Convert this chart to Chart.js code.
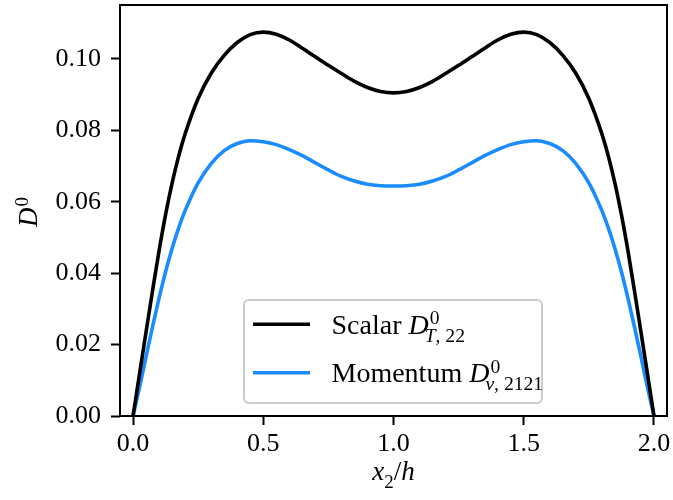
<!DOCTYPE html>
<html>
<head>
<meta charset="utf-8">
<script src="https://cdn.jsdelivr.net/npm/chart.js@4/dist/chart.umd.min.js"></script>
<style>
html,body{margin:0;padding:0;background:#fff;}
#wrap{width:673px;height:500px;}
</style>
</head>
<body>
<div id="wrap"><canvas id="c" width="673" height="500"></canvas></div>
<script>
// ---- data ----
const xValues = [0, 0.025, 0.05, 0.075, 0.1, 0.125, 0.15, 0.175, 0.2, 0.25, 0.3, 0.35, 0.4, 0.45, 0.5, 0.55, 0.6, 0.65, 0.7, 0.75, 0.8, 0.85, 0.9, 0.95, 1.0,
  1.05, 1.1, 1.15, 1.2, 1.25, 1.3, 1.35, 1.4, 1.45, 1.5, 1.55, 1.6, 1.65, 1.7, 1.75, 1.8, 1.825, 1.85, 1.875, 1.9, 1.925, 1.95, 1.975, 2.0];
const scalarValues = [0, 0.0118, 0.0235, 0.0351, 0.0463, 0.0564, 0.0652, 0.0727, 0.0790, 0.0889, 0.0960, 0.1010, 0.1046, 0.1068, 0.1075, 0.1069, 0.1053, 0.1030, 0.1006, 0.0982, 0.0959, 0.0937, 0.0920, 0.0909, 0.0905,
  0.0909, 0.0920, 0.0937, 0.0959, 0.0982, 0.1006, 0.1030, 0.1053, 0.1069, 0.1075, 0.1068, 0.1046, 0.1010, 0.0960, 0.0889, 0.0790, 0.0727, 0.0652, 0.0564, 0.0463, 0.0351, 0.0235, 0.0118, 0];
const momentumValues = [0, 0.0080, 0.0166, 0.0250, 0.0330, 0.0404, 0.0469, 0.0526, 0.0575, 0.0653, 0.0707, 0.0743, 0.0763, 0.0771, 0.0768, 0.0760, 0.0746, 0.0729, 0.0709, 0.0689, 0.0671, 0.0658, 0.0649, 0.0645, 0.0644,
  0.0645, 0.0649, 0.0658, 0.0671, 0.0689, 0.0709, 0.0729, 0.0746, 0.0760, 0.0768, 0.0771, 0.0763, 0.0743, 0.0707, 0.0653, 0.0575, 0.0526, 0.0469, 0.0404, 0.0330, 0.0250, 0.0166, 0.0080, 0];
const xTicks = [0.0, 0.5, 1.0, 1.5, 2.0];
const yTicks = [0.00, 0.02, 0.04, 0.06, 0.08, 0.10];
const seriesNames = ['Scalar', 'Momentum'];
// rich-text labels (math parts)
const scalarLabelParts = [{t:'Scalar '}, {t:'D', it:true}, {t:'0', sup:true, dx:1}, {t:'T', it:true, sub:true, dx:-4}, {t:', 22', sub:true}];
const momentumLabelParts = [{t:'Momentum '}, {t:'D', it:true}, {t:'0', sup:true, dx:1}, {t:'v', it:true, sub:true, dx:-4}, {t:', 2121', sub:true}];
const yTitleParts = [{t:'D', it:true}, {t:'0', sup:true, dx:1}];
const xTitleParts = [{t:'x', it:true}, {t:'2', sub:true}, {t:'/'}, {t:'h', it:true}];

const FONT = '"Liberation Serif", "Times New Roman", serif';
const FS = 26;
const LEG_FS = 28;

function drawRich(ctx, x, y, parts, size, draw) {
  let cx = x, baseEnd = x, supX = null, subX = null, maxX = x;
  for (const p of parts) {
    const fs = (p.sup || p.sub) ? size * 0.7 : size;
    ctx.font = (p.it ? 'italic ' : '') + fs + 'px ' + FONT;
    const w = ctx.measureText(p.t).width;
    if (p.sup) {
      if (supX === null) supX = baseEnd + (p.dx || 0);
      if (draw) ctx.fillText(p.t, supX, y - size * 0.34);
      supX += w; maxX = Math.max(maxX, supX);
    } else if (p.sub) {
      if (subX === null) subX = baseEnd + (p.dx || 0);
      if (draw) ctx.fillText(p.t, subX, y + size * 0.28);
      subX += w; maxX = Math.max(maxX, subX);
    } else {
      cx = Math.max(cx, supX === null ? cx : supX, subX === null ? cx : subX);
      if (draw) ctx.fillText(p.t, cx, y);
      cx += w; baseEnd = cx; supX = null; subX = null; maxX = Math.max(maxX, cx);
    }
  }
  return maxX - x;
}

const decor = {
  id: 'decor',
  afterDatasetsDraw(chart) {
    const ctx = chart.ctx, a = chart.chartArea;
    ctx.save();
    // frame
    ctx.strokeStyle = '#000'; ctx.lineWidth = 2;
    ctx.strokeRect(a.left, a.top, a.right - a.left, a.bottom - a.top);
    ctx.fillStyle = '#000'; ctx.textBaseline = 'alphabetic'; ctx.textAlign = 'left';
    // x title
    const wx = drawRich(ctx, 0, 0, xTitleParts, 27, false);
    drawRich(ctx, (a.left + a.right) / 2 - wx / 2, 480, xTitleParts, 27, true);
    // y title
    const wy = drawRich(ctx, 0, 0, yTitleParts, 27, false);
    ctx.save();
    ctx.translate(37, 212);
    ctx.rotate(-Math.PI / 2);
    drawRich(ctx, -wy / 2, 0, yTitleParts, 27, true);
    ctx.restore();
    // legend
    const bx = 244, by = 300, bw = 298, bh = 103;
    ctx.beginPath();
    ctx.roundRect(bx, by, bw, bh, 5);
    ctx.fillStyle = 'rgba(255,255,255,0.8)'; ctx.fill();
    ctx.strokeStyle = '#cccccc'; ctx.lineWidth = 2; ctx.stroke();
    const labels = [scalarLabelParts, momentumLabelParts];
    const lineYs = [324.3, 372.7];
    chart.data.datasets.forEach((ds, i) => {
      ctx.beginPath();
      ctx.strokeStyle = ds.borderColor; ctx.lineWidth = ds.borderWidth;
      ctx.moveTo(253, lineYs[i]); ctx.lineTo(310, lineYs[i]); ctx.stroke();
      ctx.fillStyle = '#000';
      drawRich(ctx, 331.5, lineYs[i] + 9.7, labels[i], LEG_FS, true);
    });
    ctx.restore();
  }
};

const tickFont = { family: FONT, size: FS };
new Chart(document.getElementById('c'), {
  type: 'line',
  data: {
    datasets: [
      { label: seriesNames[0], data: xValues.map((x, i) => ({ x: x, y: scalarValues[i] })), borderColor: '#000000', borderWidth: 3.6, pointRadius: 0, cubicInterpolationMode: 'monotone', fill: false },
      { label: seriesNames[1], data: xValues.map((x, i) => ({ x: x, y: momentumValues[i] })), borderColor: '#1a8cff', borderWidth: 3.6, pointRadius: 0, cubicInterpolationMode: 'monotone', fill: false }
    ]
  },
  options: {
    responsive: false,
    animation: false,
    events: [],
    layout: { padding: { left: 0, right: 6, top: 5, bottom: 0 } },
    plugins: { legend: { display: false }, tooltip: { enabled: false }, title: { display: false } },
    scales: {
      x: {
        type: 'linear', min: -0.05, max: 2.05,
        afterBuildTicks(s) { s.ticks = xTicks.map(v => ({ value: v })); },
        afterFit(s) { s.height = 84; s.paddingLeft = 0; s.paddingRight = 0; },
        ticks: { font: tickFont, color: '#000', padding: 4, maxRotation: 0, autoSkip: false, callback: v => Number(v).toFixed(1) },
        grid: { drawOnChartArea: false, drawTicks: true, tickLength: 9, tickWidth: 2, color: '#000' },
        border: { display: false }
      },
      y: {
        type: 'linear', min: 0, max: 0.1151,
        afterBuildTicks(s) { s.ticks = yTicks.map(v => ({ value: v })); },
        afterFit(s) { s.width = 120; s.paddingTop = 0; s.paddingBottom = 0; },
        ticks: { font: tickFont, color: '#000', padding: 10, autoSkip: false, callback: v => Number(v).toFixed(2) },
        grid: { drawOnChartArea: false, drawTicks: true, tickLength: 9, tickWidth: 2, color: '#000' },
        border: { display: false }
      }
    }
  },
  plugins: [decor]
});
</script>
</body>
</html>
